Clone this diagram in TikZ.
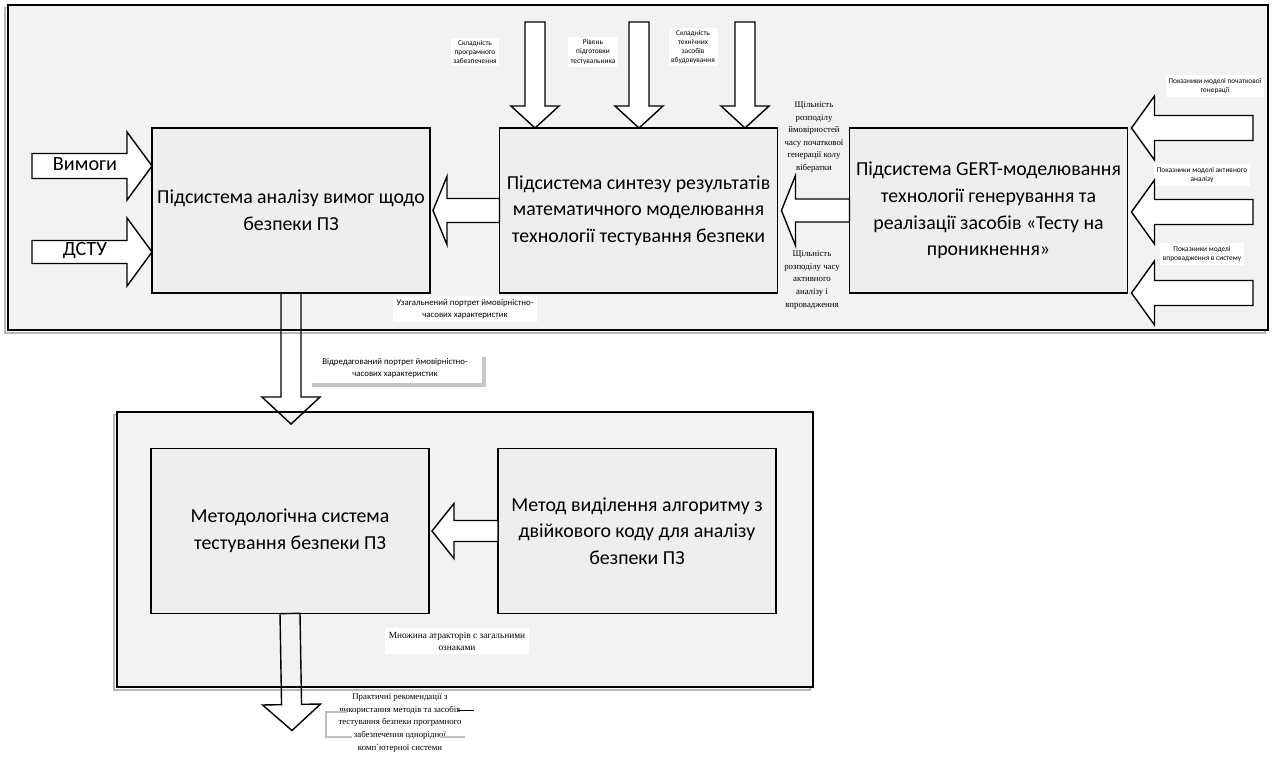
\documentclass[tikz,border=0pt]{standalone}
\usepackage{fontspec}
\setmainfont{Carlito}
\newfontfamily\serifcyr{Liberation Serif}
\usetikzlibrary{calc, positioning}
\definecolor{framegray}{HTML}{F2F2F2}
\definecolor{boxgray}{HTML}{EEEEEE}

% block arrow: [opts]{start}{tip}{shaft half}{head half}{head length}
\newcommand{\blockarrow}[6][]{%
  \coordinate (ba-s) at (#2);
  \coordinate (ba-t) at (#3);
  \coordinate (ba-h) at ($(ba-t)!#6!(ba-s)$);
  \draw[blockarr,#1] ($(ba-s)!#4!90:(ba-t)$) -- ($(ba-h)!#4!-90:(ba-s)$)
    -- ($(ba-h)!#5!-90:(ba-s)$) -- (ba-t) -- ($(ba-h)!#5!90:(ba-s)$)
    -- ($(ba-h)!#4!90:(ba-s)$) -- ($(ba-s)!#4!-90:(ba-t)$) -- cycle;}

\begin{document}
\begin{tikzpicture}[x=0.02cm, y=-0.02cm,
    frame/.style={draw, line width=1.3pt, fill=framegray, inner sep=0pt, outer sep=0pt},
    shadowline/.style={draw=gray!55, line width=1.3pt},
    sysbox/.style={draw, line width=0.9pt, fill=boxgray, minimum width=5.56cm,
                   minimum height=3.3cm, align=center, outer sep=0pt, inner sep=1pt,
                   font=\fontsize{11.3}{15.2}\selectfont},
    blockarr/.style={draw, line width=0.8pt, fill=white, line join=miter},
    toplbl/.style={fill=white, align=center, inner sep=1.5pt,
                   font=\fontsize{4.2}{5.2}\selectfont},
    sidelbl/.style={fill=white, align=center, inner sep=1.5pt,
                    font=\fontsize{4.2}{5.6}\selectfont},
    serlbl/.style={align=center, inner sep=1pt,
                   font=\serifcyr\fontsize{5}{7.2}\selectfont},
    sanslbl/.style={fill=white, align=center, inner sep=2pt,
                    font=\fontsize{5}{6.8}\selectfont},
    inlbl/.style={font=\fontsize{11.5}{13}\selectfont}
  ]
  \useasboundingbox (0,0) rectangle (1273,757);

  % frames
  \draw[shadowline] (5,8) rectangle (1265,333);
  \node[frame, minimum width=25.2cm, minimum height=6.5cm] (top) at (638,167.5) {};
  \draw[shadowline] (114,415) rectangle (810,690);
  \node[frame, minimum width=13.92cm, minimum height=5.5cm] (low) at (465,549.5) {};

  % upper subsystems
  \node[sysbox] (b1) at (291,210.5) {Підсистема аналізу вимог щодо\\безпеки ПЗ};
  \node[sysbox] (b2) at (638.5,210.5)
    {Підсистема синтезу результатів\\математичного моделювання\\технології тестування безпеки};
  \node[sysbox] (b3) at (988.5,210.5)
    {Підсистема GERT-моделювання\\технології генерування та\\реалізації засобів «Тесту на\\проникнення»};

  % inputs on the left
  \coordinate (in1) at (32,166);
  \coordinate (in2) at (32,252);
  \blockarrow{in1}{in1 -| b1.west}{0.25cm}{0.68cm}{0.5cm}
  \blockarrow{in2}{in2 -| b1.west}{0.23cm}{0.68cm}{0.5cm}
  \node[inlbl] (vymogy) at (85,164) {Вимоги};
  \node[inlbl] (dstu) at (85,251) {ДСТУ};

  % inputs from the top
  \node[toplbl] (lt1) at (475,52) {Складність\\програмного\\забезпечення};
  \node[toplbl] (lt2) at (593,52) {Рівень\\підготовки\\тестувальника};
  \node[toplbl] (lt3) at (693,47) {Складність\\технічних\\засобів\\вбудовування};
  \coordinate (t1) at (535,22);
  \coordinate (t2) at (639,22);
  \coordinate (t3) at (745,22);
  \foreach \t in {t1,t2,t3}
    \blockarrow{\t}{\t |- b2.north}{0.2cm}{0.48cm}{0.44cm};

  % inputs on the right
  \node[sidelbl] (lr1) at (1215,86) {Показники моделі початкової\\генерації};
  \node[sidelbl] (lr2) at (1202,175) {Показники моделі активного\\аналізу};
  \node[sidelbl] (lr3) at (1202,254) {Показники моделі\\впровадження в систему};
  \coordinate (r1) at (1253,128);
  \coordinate (r2) at (1253,212);
  \coordinate (r3) at (1253,293);
  \foreach \r in {r1,r2,r3}
    \blockarrow{\r}{$(\r -| b3.east)+(4,0)$}{0.25cm}{0.64cm}{0.46cm};

  % between subsystems
  \blockarrow{b3.west}{$(b2.east)+(4,0)$}{0.23cm}{0.7cm}{0.28cm}
  \blockarrow{b2.west}{$(b1.east)+(3,0)$}{0.24cm}{0.68cm}{0.28cm}
  \node[serlbl] (ls1) at (814,137)
    {Щільність\\розподілу\\ймовірностей\\часу початкової\\генерації колу\\вібератки};
  \node[serlbl] (ls2) at (812,280)
    {Щільність\\розподілу часу\\активного\\аналізу і\\впровадження};
  \node[sanslbl] (lg) at (465,309) {Узагальнений портрет ймовірністно-\\часових характеристик};

  % down to the methodology
  \blockarrow[fill=none]{b1.south}{$(b1.south |- low.north)+(0,12)$}{0.2cm}{0.58cm}{0.54cm}
  \fill[gray!45] (312,357) rectangle (486,387);
  \node[sanslbl, minimum width=3.48cm, minimum height=0.6cm] (le) at (395,368)
    {Відредагований портрет ймовірністно-\\часових характеристик};

  % lower subsystems
  \node[sysbox] (m1) at (290,531) {Методологічна система\\тестування безпеки ПЗ};
  \node[sysbox] (m2) at (637,531) {Метод виділення алгоритму з\\двійкового коду для аналізу\\безпеки ПЗ};
  \blockarrow{m2.west}{$(m1.east)+(3,0)$}{0.21cm}{0.55cm}{0.44cm}
  \node[serlbl, fill=white, inner sep=2pt, font=\serifcyr\fontsize{5.3}{6.8}\selectfont] (la)
    at (457,641) {Множина атракторів с загальними\\ознаками};

  % output
  \blockarrow[fill=none]{m1.south}{$(m1.south)+(2,117)$}{0.2cm}{0.58cm}{0.52cm}
  \node[serlbl] (lo) at (400,723)
    {Практичні рекомендації з\\використання методів та засобів\\тестування безпеки програмного\\забезпечення однорідної\\комп`ютерної системи};
  \draw[gray!50, line width=1pt] (347,712) -| (326,737) -- (352,737);
  \draw[line width=0.5pt] (lo.east |- 0,710) ++(-6,0) -- ++(16,0);
  \draw[gray!50, line width=1.2pt] (440,737) -- (465,737);
\end{tikzpicture}
\end{document}
